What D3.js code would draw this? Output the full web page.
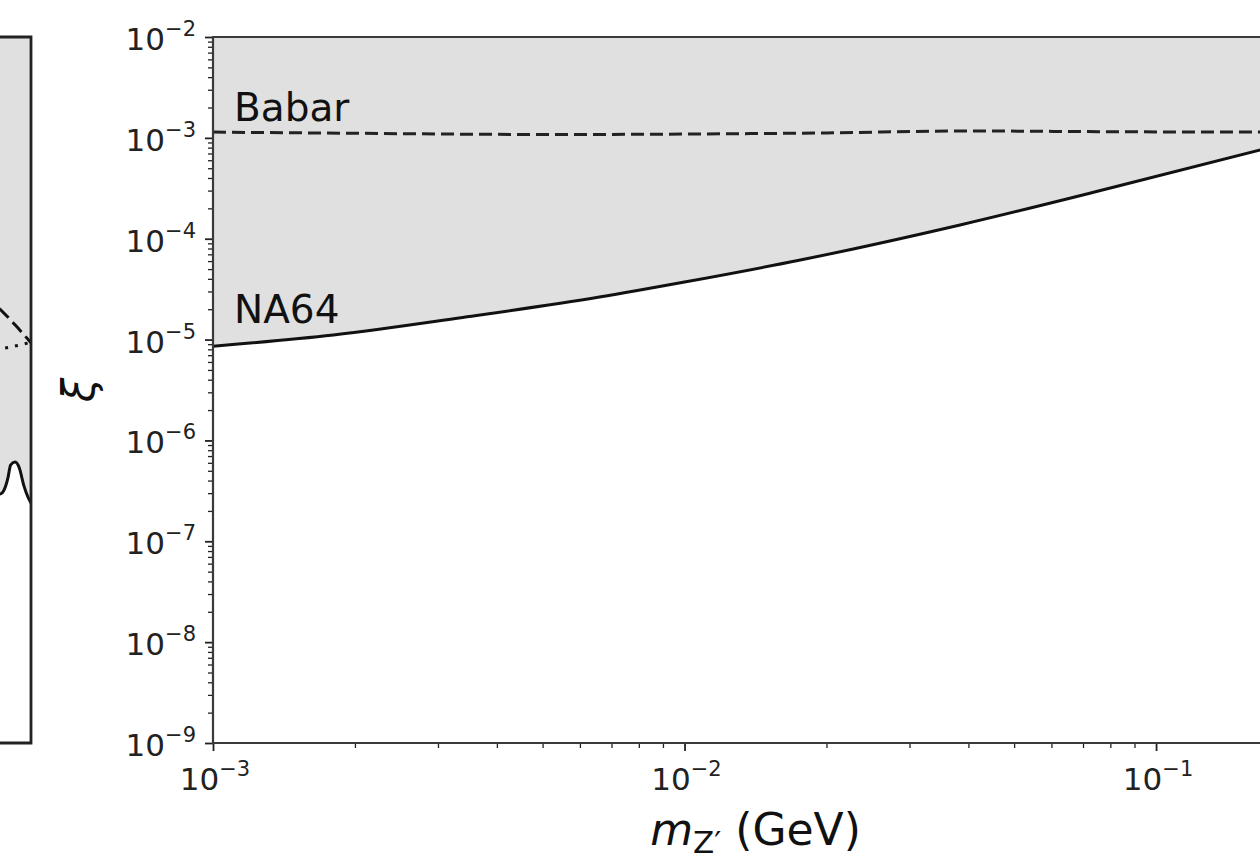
<!DOCTYPE html>
<html>
<head>
<meta charset="utf-8">
<script src="https://cdn.jsdelivr.net/npm/d3@7"></script>
<style>
  body { margin: 0; background: #fff; }
  svg { display: block; font-family: "DejaVu Sans", sans-serif; }
</style>
</head>
<body>
<svg width="1260" height="859"></svg>
<script>
// NA64 bound (solid)
var na64Mass = [1e-3, 1.8e-3, 3.46e-3, 6.6e-3, 1e-2, 1.76e-2, 3.84e-2, 8.0e-2, 0.17];
var na64Xi   = [8.6e-6, 1.11e-5, 1.68e-5, 2.64e-5, 3.72e-5, 6.15e-5, 1.37e-4, 3.18e-4, 7.8e-4];

// Babar bound (dashed)
var babarMass = [1e-3, 2e-3, 5e-3, 1e-2, 2e-2, 4e-2, 8e-2, 0.17];
var babarXi   = [1.14e-3, 1.11e-3, 1.08e-3, 1.09e-3, 1.12e-3, 1.17e-3, 1.15e-3, 1.14e-3];

// the neighbour panel on the left, only its right edge is in view
var leftMass     = [0.80, 0.86, 0.876, 0.894, 0.905, 0.925, 0.945, 0.965, 0.985, 1.0];
var leftSolidXi  = [3.0e-7, 2.95e-7, 3.2e-7, 4.3e-7, 5.7e-7, 6.1e-7, 5.3e-7, 3.6e-7, 2.75e-7, 2.4e-7];
var leftDashMass = [0.80, 0.86, 0.925, 1.0];
var leftDashXi   = [2.7e-5, 2.0e-5, 1.4e-5, 9.3e-6];
var leftDotMass  = [0.80, 0.86, 1.0];
var leftDotXi    = [7.8e-6, 8.1e-6, 9.4e-6];

var yMajorExp = [-9, -8, -7, -6, -5, -4, -3, -2];
var xMajorExp = [-3, -2, -1];

var FILL = "#e0e0e0";
var INK = "#222";

var svg = d3.select("svg");

var x = d3.scaleLog().domain([1e-3, 0.2]).range([213, 1298]);
var y = d3.scaleLog().domain([1e-9, 1e-2]).range([743, 37]);
var leftX = d3.scaleLog().domain([0.5, 1]).range([31 - 471.5 * Math.log10(2), 31]);

var defs = svg.append("defs");
defs.append("clipPath").attr("id", "mainClip")
  .append("rect").attr("x", 213).attr("y", 37).attr("width", 1298 - 213).attr("height", 743 - 37);
defs.append("clipPath").attr("id", "leftClip")
  .append("rect").attr("x", -120).attr("y", 37).attr("width", 151).attr("height", 743 - 37);

function zip(a, b) { return a.map(function(v, i) { return [v, b[i]]; }); }

// ---- left (cut off) panel ----
var lp = svg.append("g").attr("clip-path", "url(#leftClip)");
lp.append("path")
  .datum(zip(leftMass, leftSolidXi))
  .attr("fill", FILL)
  .attr("d", d3.area()
    .x(function(d) { return leftX(d[0]); })
    .y0(y(1e-2))
    .y1(function(d) { return y(d[1]); })
    .curve(d3.curveMonotoneX));
lp.append("path")
  .datum(zip(leftMass, leftSolidXi))
  .attr("fill", "none").attr("stroke", "#111").attr("stroke-width", 3)
  .attr("d", d3.line()
    .x(function(d) { return leftX(d[0]); })
    .y(function(d) { return y(d[1]); })
    .curve(d3.curveMonotoneX));
lp.append("path")
  .datum(zip(leftDashMass, leftDashXi))
  .attr("fill", "none").attr("stroke", "#111").attr("stroke-width", 3)
  .attr("stroke-dasharray", "13,6")
  .attr("d", d3.line()
    .x(function(d) { return leftX(d[0]); })
    .y(function(d) { return y(d[1]); })
    .curve(d3.curveMonotoneX));
lp.append("path")
  .datum(zip(leftDotMass, leftDotXi))
  .attr("fill", "none").attr("stroke", "#111").attr("stroke-width", 3)
  .attr("stroke-dasharray", "3,7")
  .attr("d", d3.line()
    .x(function(d) { return leftX(d[0]); })
    .y(function(d) { return y(d[1]); })
    .curve(d3.curveMonotoneX));
svg.append("path")
  .attr("fill", "none").attr("stroke", INK).attr("stroke-width", 2.8)
  .attr("d", "M0," + y(1e-2) + "H" + leftX(1) + "V" + y(1e-9) + "H0");

// ---- main panel ----
var main = svg.append("g").attr("clip-path", "url(#mainClip)");

main.append("path")
  .datum(zip(na64Mass, na64Xi))
  .attr("fill", FILL)
  .attr("d", d3.area()
    .x(function(d) { return x(d[0]); })
    .y0(y(1e-2))
    .y1(function(d) { return y(d[1]); })
    .curve(d3.curveMonotoneX));

main.append("path")
  .datum(zip(babarMass, babarXi))
  .attr("fill", "none").attr("stroke", "#222").attr("stroke-width", 3)
  .attr("stroke-dasharray", "13,6")
  .attr("d", d3.line()
    .x(function(d) { return x(d[0]); })
    .y(function(d) { return y(d[1]); })
    .curve(d3.curveMonotoneX));

main.append("path")
  .datum(zip(na64Mass, na64Xi))
  .attr("fill", "none").attr("stroke", "#111").attr("stroke-width", 3)
  .attr("d", d3.line()
    .x(function(d) { return x(d[0]); })
    .y(function(d) { return y(d[1]); })
    .curve(d3.curveMonotoneX));

// labels inside the plot
svg.append("text").attr("x", 234).attr("y", 121)
  .attr("font-size", 39).attr("fill", "#111").text("Babar");
svg.append("text").attr("x", 234).attr("y", 323)
  .attr("font-size", 39).attr("fill", "#111").text("NA64");

// ---- axes ----
var yMajor = yMajorExp.map(function(e) { return Math.pow(10, e); });
var yMinor = [];
yMajorExp.slice(0, -1).forEach(function(e) {
  for (var k = 2; k <= 9; k++) yMinor.push(k * Math.pow(10, e));
});
var xMajor = xMajorExp.map(function(e) { return Math.pow(10, e); });
var xMinor = [];
[-3, -2, -1].forEach(function(e) {
  for (var k = 2; k <= 9; k++) {
    var v = k * Math.pow(10, e);
    if (v <= 0.2) xMinor.push(v);
  }
});

function styleAxis(g, w) {
  g.select(".domain").remove();
  g.selectAll(".tick line").attr("stroke", INK).attr("stroke-width", w);
}

svg.append("g").attr("transform", "translate(213,0)")
  .call(d3.axisLeft(y).tickValues(yMinor).tickSize(5).tickFormat(""))
  .call(styleAxis, 1.3);
svg.append("g").attr("transform", "translate(213,0)")
  .call(d3.axisLeft(y).tickValues(yMajor).tickSize(8).tickFormat(""))
  .call(styleAxis, 1.8);
svg.append("g").attr("transform", "translate(0,743)")
  .call(d3.axisBottom(x).tickValues(xMinor).tickSize(5).tickFormat(""))
  .call(styleAxis, 1.3);
svg.append("g").attr("transform", "translate(0,743)")
  .call(d3.axisBottom(x).tickValues(xMajor).tickSize(8).tickFormat(""))
  .call(styleAxis, 1.8);

// spines
svg.append("path")
  .attr("fill", "none").attr("stroke", "#3a3a3a").attr("stroke-width", 2.2)
  .attr("d", "M" + x(0.2) + "," + y(1e-2) + "H213V" + y(1e-9) + "H" + x(0.2));

// tick labels with superscript exponents
function powLabel(sel, e) {
  sel.append("tspan").text("10");
  sel.append("tspan").attr("dy", -14).attr("font-size", 21).text("\u2212" + Math.abs(e));
}
yMajorExp.forEach(function(e) {
  svg.append("text")
    .attr("x", 196).attr("y", y(Math.pow(10, e)) + 13)
    .attr("text-anchor", "end").attr("font-size", 31).attr("fill", "#222")
    .call(powLabel, e);
});
xMajorExp.forEach(function(e) {
  svg.append("text")
    .attr("x", x(Math.pow(10, e)) + 2).attr("y", 790)
    .attr("text-anchor", "middle").attr("font-size", 31).attr("fill", "#222")
    .call(powLabel, e);
});

// axis titles
var xt = svg.append("text")
  .attr("x", (213 + 1298) / 2).attr("y", 845)
  .attr("text-anchor", "middle").attr("font-size", 44).attr("fill", "#111");
xt.append("tspan").attr("font-style", "italic").text("m");
xt.append("tspan").attr("font-size", 31).attr("dy", 8).text("Z\u2032");
xt.append("tspan").attr("dy", -8).text(" (GeV)");

svg.append("text")
  .attr("transform", "translate(94," + (37 + 743) / 2 + ") rotate(-90)")
  .attr("text-anchor", "middle").attr("font-size", 44).attr("font-style", "italic")
  .attr("fill", "#111").text("\u03be");
</script>
</body>
</html>
